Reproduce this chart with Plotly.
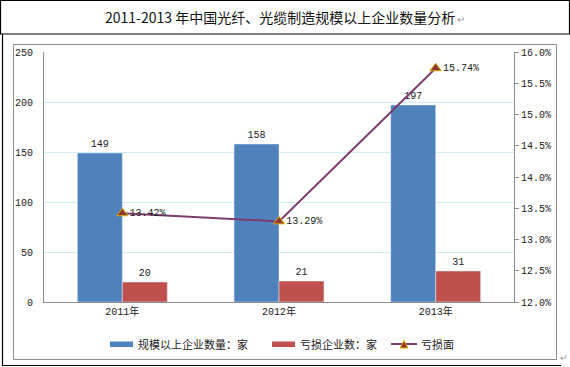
import plotly.graph_objects as go

# ---- data ----
years = ["2011年", "2012年", "2013年"]
scale_firms = [149, 158, 197]          # 规模以上企业数量：家
loss_firms = [20, 21, 31]              # 亏损企业数：家
loss_rate = [13.42, 13.29, 15.74]      # 亏损面 (%)
name_scale = "规模以上企业数量：家"
name_loss = "亏损企业数：家"
name_rate = "亏损面"
title_text = "2011-2013 年中国光纤、光缆制造规模以上企业数量分析"

W, H = 570, 367
L, R, T, B = 44, 56, 52, 65
PX0, PX1, PY0, PY1 = L, W - R, T, H - B


def px(x):
    return (x - PX0) / (PX1 - PX0)


def py(y):
    return (PY1 - y) / (PY1 - PY0)


num_font = dict(family="Liberation Mono, DejaVu Sans Mono, monospace", size=10, color="#1a1a1a")
cjk = "Noto Sans CJK SC, sans-serif"

fig = go.Figure()
fig.add_trace(go.Bar(
    x=years, y=scale_firms, name=name_scale, marker_color="#4F81BD",
    text=[str(v) for v in scale_firms], textposition="outside",
    textfont=num_font, cliponaxis=False, showlegend=False,
))
fig.add_trace(go.Bar(
    x=years, y=loss_firms, name=name_loss, marker_color="#C0504D",
    text=[str(v) for v in loss_firms], textposition="outside",
    textfont=num_font, cliponaxis=False, showlegend=False,
))
fig.add_trace(go.Scatter(
    x=years, y=loss_rate, name=name_rate, yaxis="y2", mode="lines+markers+text",
    line=dict(color="#7D3C6E", width=2),
    marker=dict(symbol="triangle-up", size=10, color="#953735",
                line=dict(color="#D4B400", width=1)),
    text=[f"{v:.2f}%" for v in loss_rate], textposition="middle right",
    textfont=num_font, cliponaxis=False, showlegend=False,
))

shapes = [
    # title box
    dict(type="rect", xref="paper", yref="paper", x0=px(0.5), x1=px(569.5), y0=py(0.5), y1=py(34),
         line=dict(color="#000", width=1.2), layer="below"),
    # lower box left/bottom
    dict(type="line", xref="paper", yref="paper", x0=px(2.5), x1=px(2.5), y0=py(34), y1=py(365.5),
         line=dict(color="#000", width=1.2)),
    dict(type="line", xref="paper", yref="paper", x0=px(2), x1=px(561), y0=py(365.5), y1=py(365.5),
         line=dict(color="#000", width=1.2)),
    # gray chart frame
    dict(type="rect", xref="paper", yref="paper", x0=px(13.5), x1=px(556.5), y0=py(44.5), y1=py(359.5),
         line=dict(color="#8c8c8c", width=1), layer="below"),
    # legend swatches
    dict(type="rect", xref="paper", yref="paper", x0=px(110), x1=px(133), y0=py(341.5), y1=py(347),
         fillcolor="#4F81BD", line=dict(width=0)),
    dict(type="rect", xref="paper", yref="paper", x0=px(272), x1=px(295), y0=py(341.5), y1=py(347),
         fillcolor="#C0504D", line=dict(width=0)),
    dict(type="line", xref="paper", yref="paper", x0=px(391), x1=px(417), y0=py(344), y1=py(344),
         line=dict(color="#7D3C6E", width=2)),
    dict(type="path", xref="paper", yref="paper",
         path=f"M {px(400)} {py(348)} L {px(408)} {py(348)} L {px(404)} {py(340.5)} Z",
         fillcolor="#953735", line=dict(color="#D4B400", width=1)),
]

annotations = [
    dict(text=title_text + "<span style='color:#999;font-size:10px'> ↵</span>",
         xref="paper", yref="paper", x=px(285), y=py(17), xanchor="center", yanchor="middle",
         showarrow=False, font=dict(family=cjk, size=14, color="#111")),
    dict(text=name_scale, xref="paper", yref="paper", x=px(136), y=py(344), xanchor="left",
         yanchor="middle", showarrow=False, font=dict(family=cjk, size=11, color="#222")),
    dict(text=name_loss, xref="paper", yref="paper", x=px(298), y=py(344), xanchor="left",
         yanchor="middle", showarrow=False, font=dict(family=cjk, size=11, color="#222")),
    dict(text=name_rate, xref="paper", yref="paper", x=px(419), y=py(344), xanchor="left",
         yanchor="middle", showarrow=False, font=dict(family=cjk, size=11, color="#222")),
    dict(text="↵", xref="paper", yref="paper", x=px(564), y=py(357), xanchor="center",
         yanchor="middle", showarrow=False, font=dict(family=cjk, size=9, color="#999")),
]

fig.update_layout(
    width=W, height=H, margin=dict(l=L, r=R, t=T, b=B, pad=0),
    paper_bgcolor="white", plot_bgcolor="white",
    barmode="group", bargap=0.426, bargroupgap=0,
    showlegend=False,
    xaxis=dict(type="category", showline=True, linecolor="#8c8c8c", linewidth=1,
               ticks="", tickfont=dict(family="Liberation Mono, " + cjk, size=10, color="#1a1a1a"),
               showgrid=False, fixedrange=True),
    yaxis=dict(range=[0, 250], dtick=50, showline=True, linecolor="#8c8c8c", linewidth=1,
               gridcolor="#cdeff1", gridwidth=1, ticks="", tickfont=num_font,
               zeroline=False, ticklabelstandoff=8),
    yaxis2=dict(range=[12, 16], dtick=0.5, overlaying="y", side="right", showline=True,
                linecolor="#8c8c8c", linewidth=1, showgrid=False, ticks="outside", ticklen=4,
                tickcolor="#8c8c8c", tickformat=".1f", ticksuffix="%", tickfont=num_font,
                zeroline=False),
    shapes=shapes, annotations=annotations,
)

fig.write_html(
    "out.html",
    config={"displayModeBar": False},
    post_script="document.body.style.margin='0';document.body.style.overflow='hidden';",
)
